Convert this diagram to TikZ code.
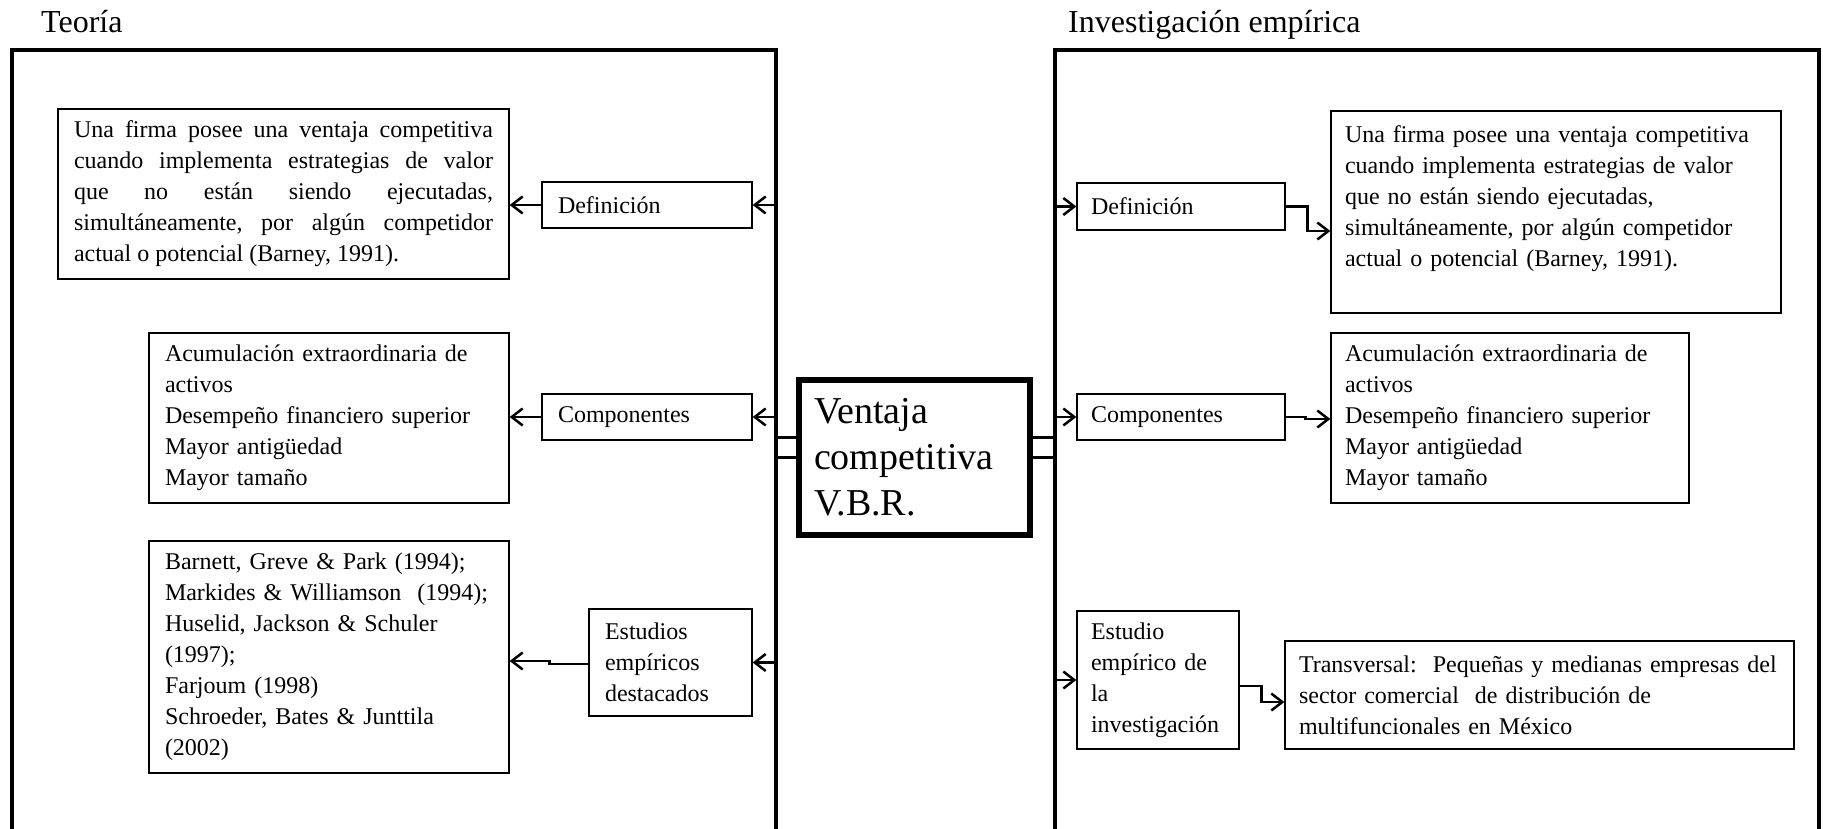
\documentclass[tikz,border=0pt]{standalone}
\usepackage{fontspec}
\setmainfont{Liberation Serif}
\usetikzlibrary{arrows.meta,calc}
\frenchspacing

\newcommand{\bodyfont}{\fontsize{24}{31}\selectfont}
\newcommand{\headfont}{\fontsize{32}{38}\selectfont}
\newcommand{\centrefont}{\fontsize{38}{46}\selectfont}

\tikzset{
  frame/.style={draw, line width=4pt, anchor=north west, inner sep=0pt,
                minimum width=764pt, minimum height=830pt},
  heading/.style={font=\headfont, inner sep=0pt, anchor=base west},
  tbox/.style={draw, line width=1.3pt, inner xsep=15pt, inner ysep=0pt,
               align=left, font=\bodyfont},
  rbox/.style={tbox, inner xsep=14pt},
  core/.style={draw, line width=6pt, inner xsep=15pt, inner ysep=0pt,
               align=left, font=\centrefont, text width=201pt,
               minimum width=231pt, minimum height=155pt},
  arr/.style={line width=2.5pt, -{Straight Barb[length=11pt,width=17pt]}},
  link/.style={line width=3pt}
}

\begin{document}
\begin{tikzpicture}[x=1pt, y=-1pt]
\useasboundingbox (0,0) rectangle (1823,829);
\clip (0,0) rectangle (1823,829);

% headings
\node[heading] (hTeo) at (41,33) {Teoría};
\node[heading] (hInv) at (1068,33) {Investigación empírica};

% the two open frames (their lower edge lies below the page)
\node[frame] (teoria) at (10,48) {};
\node[frame] (invest) at (1053,48) {};

% central concept
\node[core] (vbr) at (914.5,457.5) {Ventaja\\competitiva\\V.B.R.};

% ---- theory side ----
\node[tbox, align=justify, text width=419pt, minimum width=451pt, minimum height=170pt]
  (defL) at (283.5,194)
  {Una firma posee una ventaja competitiva\linebreak
   cuando implementa estrategias de valor\linebreak
   que no están siendo ejecutadas,\linebreak
   simultáneamente, por algún competidor\linebreak
   actual o potencial (Barney, 1991).};
\node[tbox, text width=178pt, minimum width=210pt, minimum height=46pt]
  (definL) at (647,205) {Definición};

\node[tbox, text width=328pt, minimum width=360pt, minimum height=170pt]
  (compL) at (329,418)
  {Acumulación extraordinaria de\\activos\\Desempeño financiero superior\\Mayor antigüedad\\Mayor tamaño};
\node[tbox, text width=178pt, minimum width=210pt, minimum height=46pt]
  (compLab) at (647,417) {Componentes};

\node[tbox, text width=328pt, minimum width=360pt, minimum height=232pt]
  (estL) at (329,657)
  {Barnett, Greve \& Park (1994);\\Markides \& Williamson~ (1994);\\Huselid, Jackson \& Schuler\\(1997);\\Farjoum (1998)\\Schroeder, Bates \& Junttila\\(2002)};
\node[tbox, text width=131pt, minimum width=163pt, minimum height=107pt]
  (estLab) at (670.5,662.5) {Estudios\\empíricos\\destacados};

% ---- empirical side ----
\node[rbox, text width=180pt, minimum width=208pt, minimum height=47pt]
  (definR) at (1181,206.5) {Definición};
\node[rbox, text width=422pt, minimum width=450pt, minimum height=202pt, text depth=155pt]
  (defR) at (1556,212)
  {Una firma posee una ventaja competitiva\\cuando implementa estrategias de valor\\que no están siendo ejecutadas,\\simultáneamente, por algún competidor\\actual o potencial (Barney, 1991).};

\node[rbox, text width=180pt, minimum width=208pt, minimum height=46pt]
  (compRlab) at (1181,417) {Componentes};
\node[rbox, text width=330pt, minimum width=358pt, minimum height=170pt]
  (compR) at (1510,418)
  {Acumulación extraordinaria de\\activos\\Desempeño financiero superior\\Mayor antigüedad\\Mayor tamaño};

\node[rbox, text width=134pt, minimum width=162pt, minimum height=138pt]
  (estRlab) at (1158,680) {Estudio\\empírico de\\la\\investigación};
\node[rbox, text width=481pt, minimum width=509pt, minimum height=108pt]
  (transR) at (1539.5,695)
  {Transversal:~ Pequeñas y medianas empresas del\\sector comercial~ de distribución de\\multifuncionales en México};

% double links from the central concept to both frames
\coordinate (vl1) at ($(vbr.west)+(0,-20)$);
\coordinate (vl2) at (vbr.west);
\coordinate (vr1) at ($(vbr.east)+(0,-20)$);
\coordinate (vr2) at (vbr.east);
\draw[link] (vl1) -- (vl1 -| teoria.east);
\draw[link] (vl2) -- (vl2 -| teoria.east);
\draw[link] (vr1) -- (vr1 -| invest.west);
\draw[link] (vr2) -- (vr2 -| invest.west);

% theory arrows
\draw[arr] (definL.east -| teoria.east) -- (definL.east);
\draw[arr] (definL.west) -- (definL.west -| defL.east);
\draw[arr] (compLab.east -| teoria.east) -- (compLab.east);
\draw[arr] (compLab.west) -- (compLab.west -| compL.east);
\draw[arr] (estLab.east -| teoria.east) -- (estLab.east);
\draw[arr] ($(estLab.west)+(0,1.5)$) -- ++(-39,0) |- ($(estL.east)+(0,4)$);

% empirical arrows
\draw[arr] (definR.west -| invest.west) -- (definR.west);
\draw[arr] (definR.east) -- ++(22,0) |- ($(defR.west)+(0,19)$);
\draw[arr] (compRlab.west -| invest.west) -- (compRlab.west);
\draw[arr] (compRlab.east) -- ++(20,0) -- ++(0,2) -- ($(compR.west)+(0,1)$);
\draw[arr] (estRlab.west -| invest.west) -- (estRlab.west);
\draw[arr] ($(estRlab.east)+(0,6)$) -- ++(22,0) |- ($(transR.west)+(0,7)$);
\end{tikzpicture}
\end{document}
